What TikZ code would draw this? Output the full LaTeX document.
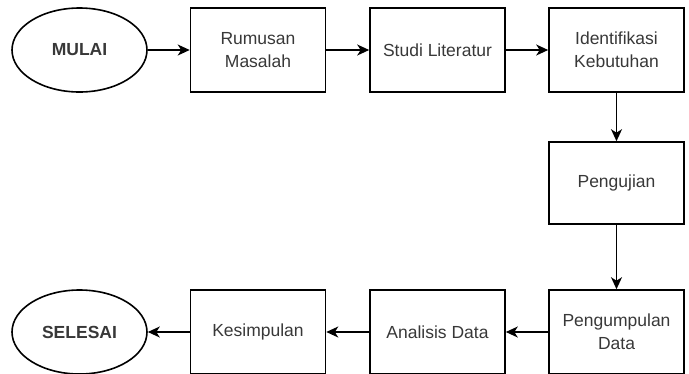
\documentclass[tikz,border=0pt]{standalone}
\usepackage{fontspec}
\setmainfont{Liberation Sans}
\usetikzlibrary{arrows.meta,shapes.geometric}

\begin{document}
\begin{tikzpicture}[x=1pt, y=-1pt,
  every node/.style={font=\fontsize{17.5}{23}\selectfont, text=black!78, align=center},
  terminal/.style={draw, ellipse, line width=1.6pt, minimum width=135pt, minimum height=84pt, inner sep=0pt},
  proses/.style={draw, rectangle, line width=1.6pt, minimum width=135pt, minimum height=84pt, inner sep=2pt},
  panah/.style={line width=1.6pt, -{Stealth[length=12pt, width=11pt, inset=3.5pt]}}]

\useasboundingbox (0,0) rectangle (689,373);

% Baris atas
\node[terminal] (mulai) at (79.5,50) {\textbf{MULAI}};
\node[proses] (rumusan) at (258,50) {Rumusan\\Masalah};
\node[proses] (studi) at (437.5,50) {Studi Literatur};
\node[proses] (identifikasi) at (616.5,50) {Identifikasi\\Kebutuhan};

% Kolom kanan
\node[proses, minimum height=82pt] (pengujian) at (616.5,183) {Pengujian};

% Baris bawah
\node[proses] (pengumpulan) at (616.5,332) {Pengumpulan\\Data};
\node[proses] (analisis) at (437.5,332) {Analisis Data};
\node[proses] (kesimpulan) at (258,332) {Kesimpulan};
\node[terminal] (selesai) at (79.5,332) {\textbf{SELESAI}};

% Alur
\draw[panah] (mulai) -- (rumusan);
\draw[panah] (rumusan) -- (studi);
\draw[panah] (studi) -- (identifikasi);
\draw[panah] (identifikasi) -- (pengujian);
\draw[panah] (pengujian) -- (pengumpulan);
\draw[panah] (pengumpulan) -- (analisis);
\draw[panah] (analisis) -- (kesimpulan);
\draw[panah] (kesimpulan) -- (selesai);

\end{tikzpicture}
\end{document}
